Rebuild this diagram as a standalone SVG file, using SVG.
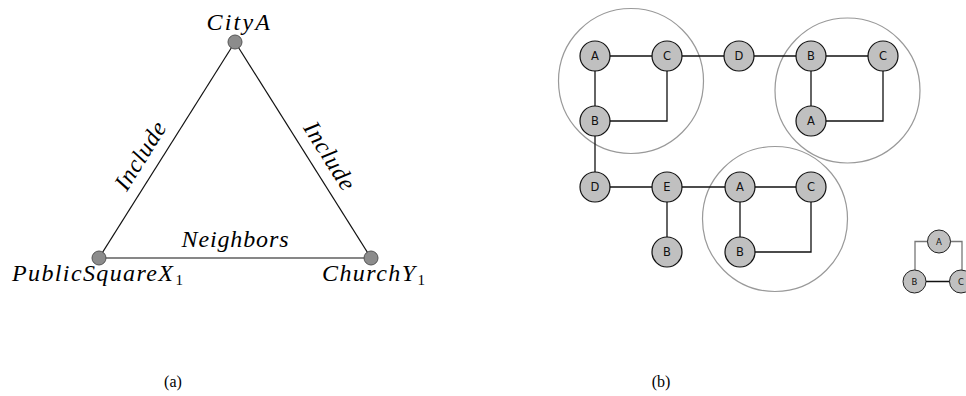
<svg xmlns="http://www.w3.org/2000/svg" width="966" height="396" viewBox="0 0 966 396">
<style>
.bg{fill:#fff}
.math{font-family:"Liberation Serif","DejaVu Serif",serif;font-style:italic;font-size:24px;fill:#000}
.sub{font-style:normal;font-size:15px}
.tedge{stroke:#111;stroke-width:1.2;fill:none}
.tnode{fill:#8c8c8c;stroke:#555;stroke-width:1}
.edge{stroke:#111;stroke-width:1.3;fill:none}
.gedge{stroke:#777;stroke-width:1.3;fill:none}
.node circle{fill:#c0c0c0;stroke:#111;stroke-width:1.2}
.node text{font-family:"DejaVu Sans",sans-serif;font-size:11.5px;fill:#111;text-anchor:middle;dominant-baseline:central}
.snode circle{fill:#c0c0c0;stroke:#222;stroke-width:1}
.snode text{font-family:"DejaVu Sans",sans-serif;font-size:8.5px;fill:#111;text-anchor:middle;dominant-baseline:central}
.cluster{fill:none;stroke:#999;stroke-width:1.2}
.cap{font-family:"Liberation Serif","Times New Roman",serif;font-size:16px;fill:#000;text-anchor:middle}
</style>
<rect class="bg" x="0" y="0" width="966" height="396"/>

<!-- (a) triangle -->
<g id="connectors-a">
<line class="tedge" x1="235" y1="42" x2="99" y2="258"/>
<line class="tedge" x1="235" y1="42" x2="371" y2="258"/>
<line class="tedge" x1="99" y1="258" x2="371" y2="258"/>
<text class="math" x="-38" y="0" textLength="76" lengthAdjust="spacing" transform="translate(147,160) rotate(-57.8)">Include</text>
<text class="math" x="-38" y="0" textLength="76" lengthAdjust="spacing" transform="translate(323,160) rotate(57.8)">Include</text>
<text class="math" x="181.5" y="246.5" textLength="107" lengthAdjust="spacing">Neighbors</text>
</g>
<g id="cityA">
<circle class="tnode" cx="235" cy="42" r="7"/>
<text class="math" x="206.5" y="30" textLength="63.5" lengthAdjust="spacing">CityA</text>
</g>
<g id="publicSquareX1">
<circle class="tnode" cx="99" cy="258" r="7"/>
<text class="math" x="12" y="281"><tspan textLength="161" lengthAdjust="spacing">PublicSquareX</tspan><tspan class="sub" dx="1" dy="4">1</tspan></text>
</g>
<g id="churchY1">
<circle class="tnode" cx="371" cy="258" r="7"/>
<text class="math" x="322" y="281"><tspan textLength="93" lengthAdjust="spacing">ChurchY</tspan><tspan class="sub" dx="1" dy="4">1</tspan></text>
</g>
<text class="cap" x="173" y="387">(a)</text>

<!-- (b) graph -->
<g id="clusters">
<circle class="cluster" cx="631" cy="81" r="72.5"/>
<circle class="cluster" cx="847.5" cy="90.5" r="72.5"/>
<circle class="cluster" cx="775" cy="219" r="72.5"/>
</g>
<g id="connectors-b">
<line class="edge" x1="595" y1="56" x2="883" y2="56"/>
<line class="edge" x1="595" y1="56" x2="595" y2="187"/>
<polyline class="edge" points="667,56 667,121 595,121"/>
<line class="edge" x1="811" y1="56" x2="811" y2="121"/>
<polyline class="edge" points="883,56 883,121 811,121"/>
<line class="edge" x1="595" y1="187" x2="811" y2="187"/>
<line class="edge" x1="667" y1="187" x2="667" y2="252"/>
<line class="edge" x1="740" y1="187" x2="740" y2="252"/>
<polyline class="edge" points="811,187 811,252 740,252"/>
<polyline class="gedge" points="939,241.5 915,241.5 915,281.5"/>
<polyline class="gedge" points="939,241.5 962,241.5 962,281.5"/>
<line class="edge" x1="915" y1="281.5" x2="961" y2="281.5"/>
</g>
<g id="n1A" class="node"><circle cx="595" cy="56" r="15"/><text x="595" y="56">A</text></g>
<g id="n1C" class="node"><circle cx="667" cy="56" r="15"/><text x="667" y="56">C</text></g>
<g id="n1B" class="node"><circle cx="595" cy="121" r="15"/><text x="595" y="121">B</text></g>
<g id="nD1" class="node"><circle cx="739" cy="56" r="15"/><text x="739" y="56">D</text></g>
<g id="n2B" class="node"><circle cx="811" cy="56" r="15"/><text x="811" y="56">B</text></g>
<g id="n2C" class="node"><circle cx="883" cy="56" r="15"/><text x="883" y="56">C</text></g>
<g id="n2A" class="node"><circle cx="811" cy="121" r="15"/><text x="811" y="121">A</text></g>
<g id="nD2" class="node"><circle cx="595" cy="187" r="15"/><text x="595" y="187">D</text></g>
<g id="nE" class="node"><circle cx="667" cy="187" r="15"/><text x="667" y="187">E</text></g>
<g id="nEB" class="node"><circle cx="667" cy="252" r="15"/><text x="667" y="252">B</text></g>
<g id="n3A" class="node"><circle cx="740" cy="187" r="15"/><text x="740" y="187">A</text></g>
<g id="n3C" class="node"><circle cx="811" cy="187" r="15"/><text x="811" y="187">C</text></g>
<g id="n3B" class="node"><circle cx="740" cy="252" r="15"/><text x="740" y="252">B</text></g>
<g id="s4A" class="snode"><circle cx="939" cy="241.5" r="11.5"/><text x="939" y="241.5">A</text></g>
<g id="s4B" class="snode"><circle cx="914.5" cy="281.5" r="11.5"/><text x="914.5" y="281.5">B</text></g>
<g id="s4C" class="snode"><circle cx="961" cy="281.5" r="11.5"/><text x="961" y="281.5">C</text></g>
<text class="cap" x="661" y="387">(b)</text>
</svg>
